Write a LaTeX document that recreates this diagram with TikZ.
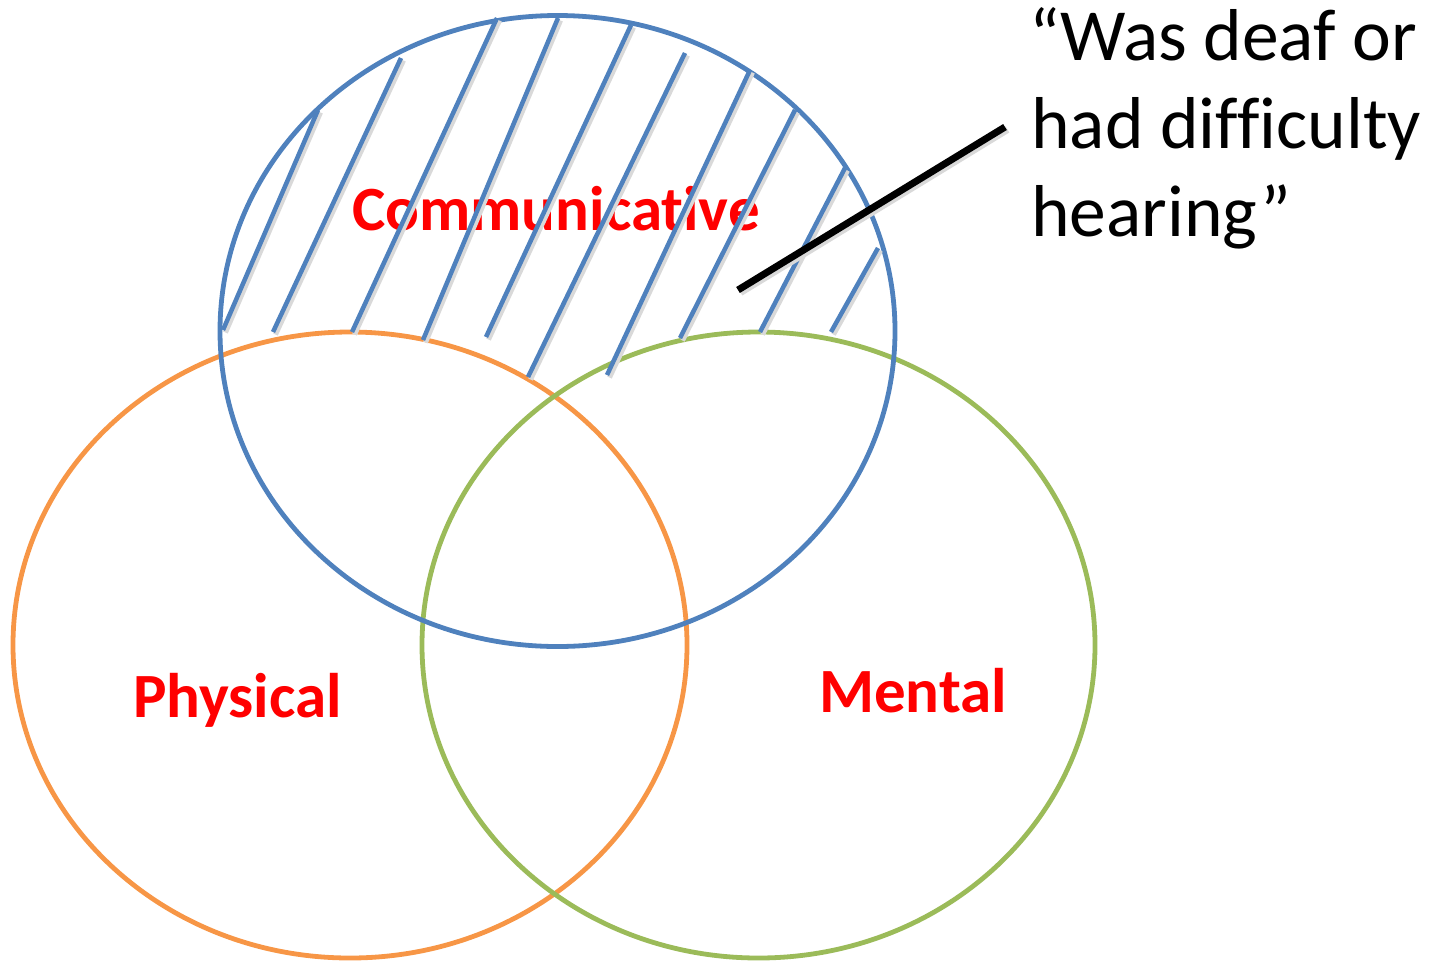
\documentclass[tikz,border=0pt]{standalone}
\usepackage{fontspec}
\setmainfont{Carlito}[Ligatures=NoCommon]
\definecolor{cblue}{HTML}{4F81BD}
\definecolor{corange}{HTML}{F79646}
\definecolor{cgreen}{HTML}{9BBB59}
\definecolor{cred}{HTML}{FF0000}
\tikzset{
  setring/.style={line width=4.8pt},
  hatchline/.style={cblue, line width=4.5pt},
  hatchshadow/.style={black!15, line width=5pt},
  label/.style={text=cred, font=\bfseries\fontsize{63}{76}\selectfont, inner sep=0pt, anchor=base},
  quote/.style={text=black, font=\fontsize{73.5}{88}\selectfont, inner sep=0pt, anchor=base west},
  pointer/.style={black, line width=7pt}
}
\begin{document}
\begin{tikzpicture}[x=1pt,y=-1pt]
\useasboundingbox (0,0) rectangle (1439,962);
% rings
\draw[setring, corange] (350,645) ellipse [x radius=337pt, y radius=313pt];
\draw[setring, cgreen] (758.5,645) ellipse [x radius=336.5pt, y radius=313pt];
\draw[setring, cblue] (557.5,331) ellipse [x radius=337.5pt, y radius=315.5pt];
% labels
\node[label] (comm) at (556,230) {Communicative};
\node[label] (phys) at (237.5,717) {Physical};
\node[label] (ment) at (913,712) {Mental};
% hatching (drawn over the label)
\foreach \ax/\ay/\bx/\by in {223/330/318/110, 273/332/401/58, 352/332/497/18,
  423/340/558/18, 486/337/631/25, 528/377/685/53, 607/375/750/70,
  680/338/795/110, 760/332/845/168, 831/332/878/248}{
  \draw[hatchshadow] (\ax+2.5,\ay+2.5) -- (\bx+2.5,\by+2.5);
  \draw[hatchline] (\ax,\ay) -- (\bx,\by);
}
% quote
\node[quote] (q1) at (1029,60) {“Was deaf or};
\node[quote] (q2) at (1031,148) {had difficulty};
\node[quote] (q3) at (1031,236) {hearing”};
% pointer
\coordinate (ptr) at (738,290);
\coordinate (ptrend) at (1005,127);
\draw[black!15, line width=7pt] ([shift={(2.5,2.5)}]ptr) -- ([shift={(2.5,2.5)}]ptrend);
\draw[pointer] (ptr) -- (ptrend);
\end{tikzpicture}
\end{document}
